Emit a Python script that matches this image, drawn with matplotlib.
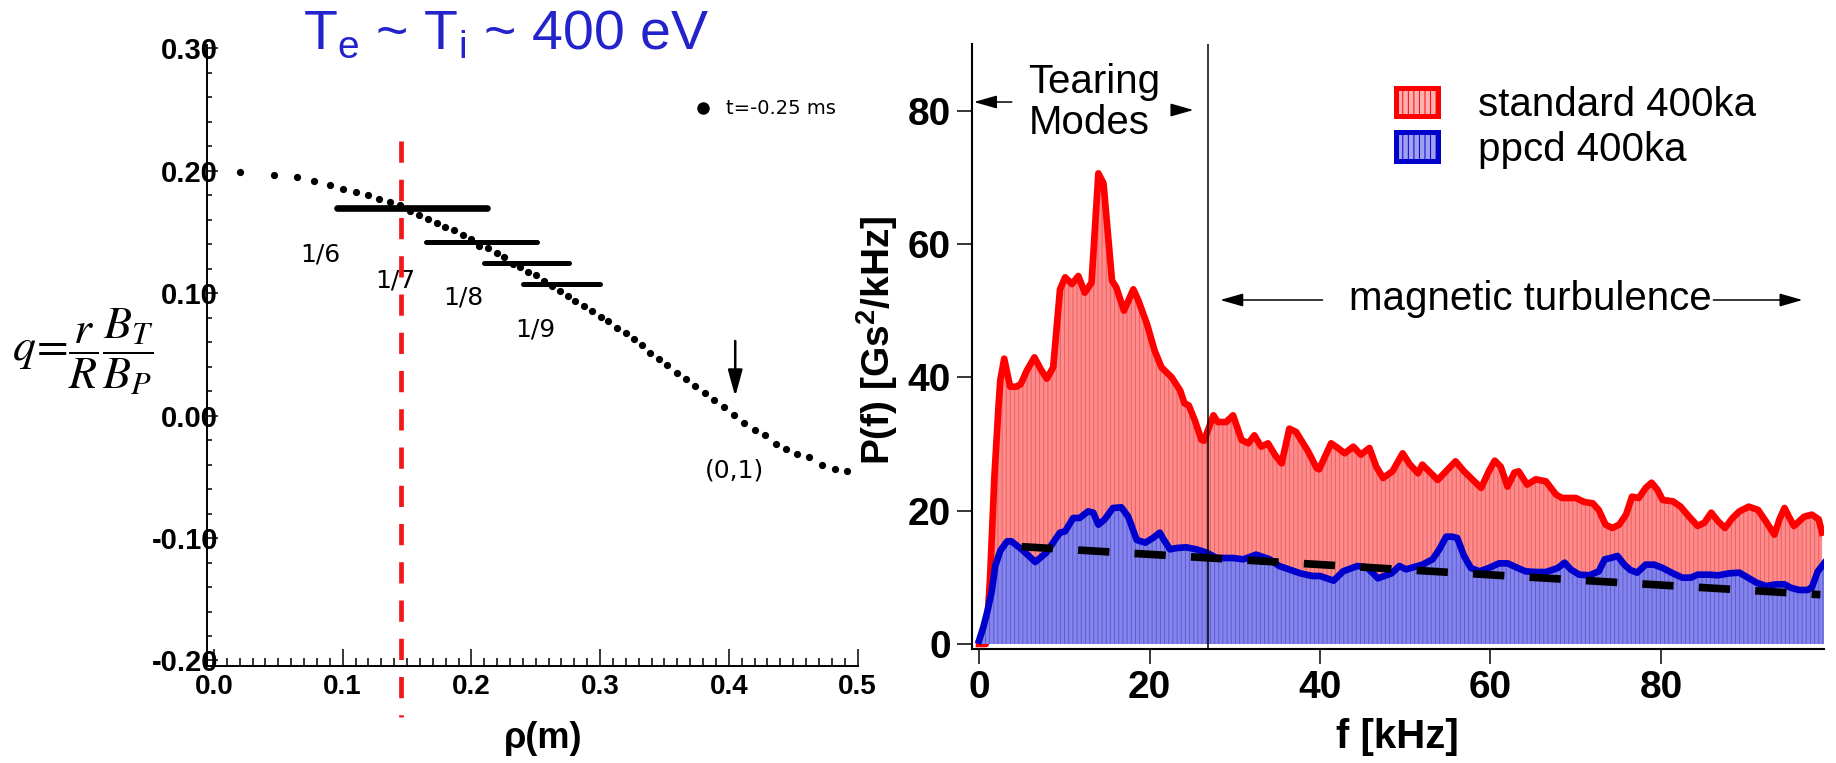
import numpy as np
import matplotlib
matplotlib.use("Agg")
import matplotlib.pyplot as plt
from matplotlib.patches import Patch
from matplotlib.ticker import MultipleLocator, FormatStrFormatter

plt.rcParams["axes.unicode_minus"] = False
plt.rcParams["hatch.linewidth"] = 0.7

# ---- left panel: safety factor profile ----
RHO = [0.0206, 0.047, 0.0645, 0.0777, 0.090, 0.100, 0.1106, 0.1196, 0.128, 0.1367,
       0.1447, 0.152, 0.159, 0.166, 0.173, 0.1796, 0.1868, 0.1938, 0.200, 0.206,
       0.2127, 0.2197, 0.2254, 0.232, 0.238, 0.244, 0.250, 0.2566, 0.263, 0.269,
       0.275, 0.2805, 0.2874, 0.2939, 0.3004, 0.3063, 0.3133, 0.320, 0.3262, 0.3322,
       0.3386, 0.3454, 0.352, 0.360, 0.3666, 0.3735, 0.3813, 0.3883, 0.396, 0.4038,
       0.4116, 0.420, 0.4278, 0.4364, 0.4447, 0.4529, 0.4622, 0.4724, 0.4827, 0.4916]
Q = [0.199, 0.197, 0.195, 0.192, 0.1885, 0.185, 0.1825, 0.180, 0.177, 0.1745,
     0.172, 0.1668, 0.164, 0.161, 0.157, 0.1545, 0.1517, 0.1476, 0.144, 0.139,
     0.1366, 0.1325, 0.1297, 0.124, 0.1215, 0.117, 0.1146, 0.110, 0.106, 0.102,
     0.098, 0.094, 0.0899, 0.0852, 0.0803, 0.0775, 0.0720, 0.0673, 0.0630, 0.0575,
     0.0515, 0.0465, 0.0418, 0.0349, 0.0300, 0.0239, 0.0185, 0.0124, 0.0069, 0.0006,
     -0.0058, -0.0118, -0.0159, -0.0228, -0.0269, -0.031, -0.0338, -0.040, -0.0433, -0.0453]

# resonant surfaces: label, rho start, rho end, q level
RES_LABELS = ["1/6", "1/7", "1/8", "1/9"]
RES_X0 = [0.0955, 0.165, 0.2099, 0.240]
RES_X1 = [0.2125, 0.251, 0.276, 0.300]
RES_Q = [0.1696, 0.142, 0.1248, 0.1077]
RES_LABEL_X = [0.0826, 0.1408, 0.1938, 0.250]
RES_LABEL_Y = [0.1316, 0.1105, 0.0968, 0.0707]

RHO_MARK = 0.1455

# ---- right panel: magnetic fluctuation spectra ----
F_STD = [0.0, 0.8, 1.3, 1.8, 2.3, 2.5, 2.95, 3.65, 4.4, 4.9, 5.6, 6.5, 7.2, 7.95, 8.7,
         9.5, 10.1, 10.9, 11.65, 12.4, 13.2, 14.0, 14.6, 15.6, 16.1, 17.0, 18.1, 18.7,
         19.7, 20.6, 21.4, 22.6, 23.6, 24.1, 24.6, 25.3, 26.1, 26.4, 27.5, 28.0, 29.0,
         29.8, 30.8, 31.6, 32.3, 33.1, 33.9, 34.7, 35.5, 36.4, 37.2, 38.6, 39.6, 39.9,
         41.3, 42.1, 42.9, 43.9, 44.8, 45.8, 46.6, 47.4, 48.5, 49.7, 50.5, 51.5, 52.0,
         52.8, 53.8, 55.0, 55.9, 56.9, 57.7, 58.9, 59.8, 60.5, 61.2, 62.0, 62.8, 63.3,
         64.3, 65.3, 66.5, 67.7, 68.4, 70.0, 71.0, 72.0, 72.7, 73.5, 74.3, 75.1, 75.9,
         76.6, 77.4, 78.2, 78.9, 79.6, 80.2, 81.4, 82.3, 83.3, 84.3, 85.1, 85.9, 86.7,
         87.5, 88.4, 89.2, 90.3, 91.4, 92.3, 93.3, 93.9, 94.5, 95.0, 95.6, 96.8, 97.7,
         98.5, 98.9]
P_STD = [0.0, 0.0, 10.0, 25.0, 36.0, 39.6, 42.8, 38.6, 38.6, 39.0, 41.0, 43.0, 41.3, 39.8, 41.5,
         53.2, 55.0, 54.0, 55.2, 52.7, 54.2, 70.6, 69.1, 54.5, 53.5, 50.0, 53.2, 51.5,
         48.0, 44.0, 41.5, 40.0, 38.0, 36.1, 35.8, 33.6, 30.6, 30.5, 34.3, 33.3, 33.3,
         34.3, 30.6, 30.1, 31.3, 29.6, 30.1, 28.4, 27.1, 32.3, 31.8, 28.9, 26.4, 26.2,
         30.1, 29.4, 28.6, 29.6, 28.4, 29.4, 26.6, 24.9, 25.9, 28.6, 27.0, 25.6, 26.9,
         25.9, 24.6, 26.2, 27.4, 25.9, 24.9, 23.4, 25.9, 27.5, 26.6, 23.6, 25.7, 25.9,
         23.9, 24.7, 24.4, 22.4, 21.9, 21.9, 21.3, 21.1, 20.1, 17.9, 17.4, 17.9, 19.4,
         22.1, 21.9, 23.4, 24.2, 23.1, 21.6, 21.4, 20.6, 19.1, 17.7, 18.2, 19.7, 18.4,
         17.4, 18.9, 19.9, 20.6, 20.1, 18.4, 16.4, 18.7, 20.4, 19.1, 17.7, 19.1, 19.4,
         18.7, 16.7]

F_PPCD = [0.0, 0.5, 1.0, 1.5, 1.9, 2.5, 3.3, 3.8, 5.0, 6.6, 7.9, 9.0, 9.5, 10.1, 11.05,
          11.8, 12.8, 13.4, 14.0, 14.75, 15.7, 16.7, 17.5, 18.5, 19.5, 20.4, 21.2, 21.6,
          22.4, 23.2, 24.3, 25.5, 26.7, 27.9, 29.8, 31.0, 32.5, 34.1, 35.2, 37.7, 39.1,
          40.0, 41.6, 42.7, 44.4, 45.5, 46.8, 48.4, 49.3, 50.1, 52.0, 53.2, 54.0, 54.8,
          55.5, 56.1, 56.9, 57.7, 58.7, 59.8, 61.0, 62.0, 63.2, 64.1, 65.3, 66.5, 67.9,
          68.7, 69.4, 70.4, 71.6, 72.7, 73.4, 74.1, 74.9, 75.7, 76.4, 77.2, 78.2, 79.2,
          80.2, 81.4, 82.5, 83.5, 84.3, 85.7, 86.7, 88.0, 89.2, 90.2, 91.2, 92.3, 93.5,
          94.5, 95.2, 96.2, 97.2, 97.7, 98.4, 99.2]
P_PPCD = [0.5, 2.5, 5.0, 8.0, 11.7, 14.0, 15.4, 15.4, 14.2, 12.3, 13.7, 15.8, 16.7, 16.9, 18.9,
          18.9, 19.9, 19.7, 17.9, 18.7, 20.4, 20.5, 19.1, 15.6, 15.2, 15.9, 16.7, 15.8,
          14.2, 14.4, 14.5, 14.2, 13.7, 12.9, 12.9, 12.7, 13.4, 12.7, 11.7, 10.6, 10.2,
          10.2, 9.5, 10.9, 11.7, 11.5, 9.85, 10.6, 11.7, 11.2, 11.9, 12.7, 14.2, 16.1,
          16.1, 15.9, 13.2, 11.4, 10.9, 11.4, 12.1, 12.1, 11.4, 10.9, 10.8, 10.8, 11.4,
          12.2, 11.2, 10.4, 10.3, 10.9, 12.7, 12.9, 13.2, 11.9, 11.1, 10.7, 11.9, 11.9,
          11.4, 10.6, 9.95, 9.95, 10.4, 10.4, 10.3, 10.6, 10.7, 9.95, 9.2, 8.7, 8.95,
          8.95, 8.45, 8.1, 8.1, 8.5, 10.9, 12.2]

F_FIT = [5.0, 98.7]
P_FIT = [14.6, 7.4]
F_SPLIT = 26.9

SANS = "Liberation Sans"

fig = plt.figure(figsize=(18.36, 7.63), dpi=100)

# ================= left panel =================
ax1 = fig.add_axes([0.11275, 0.12713, 0.3543, 0.8142])
ax1.set_xlim(-0.0054, 0.5)
ax1.set_ylim(-0.2045, 0.303)
for s in ("top", "right"):
    ax1.spines[s].set_visible(False)
for s in ("left", "bottom"):
    ax1.spines[s].set_linewidth(1.4)

ax1.xaxis.set_major_locator(MultipleLocator(0.1))
ax1.xaxis.set_minor_locator(MultipleLocator(0.01))
ax1.yaxis.set_major_locator(MultipleLocator(0.1))
ax1.yaxis.set_minor_locator(MultipleLocator(0.02))
ax1.xaxis.set_major_formatter(FormatStrFormatter("%.1f"))
ax1.yaxis.set_major_formatter(FormatStrFormatter("%.2f"))
ax1.tick_params(axis="x", which="major", direction="in", length=12, width=1.1, pad=6,
                labelsize=20)
ax1.tick_params(axis="x", which="minor", direction="in", length=6, width=1.1)
ax1.tick_params(axis="y", which="major", direction="in", length=8, width=1.1, pad=-8,
                labelsize=21)
ax1.tick_params(axis="y", which="minor", direction="in", length=3.5, width=1.1)
for lab in ax1.get_xticklabels() + ax1.get_yticklabels():
    lab.set_fontweight("bold")
    lab.set_family(SANS)

ax1.plot(RHO, Q, "o", color="black", ms=5.2, mec="none", zorder=3)
for x0, x1, yq, lab in zip(RES_X0, RES_X1, RES_Q, RES_LABELS):
    lw = 4.8 if lab == "1/6" else 3.6
    ax1.plot([x0, x1], [yq, yq], color="black", lw=lw, solid_capstyle="round", zorder=2)
for xl, yl, lab in zip(RES_LABEL_X, RES_LABEL_Y, RES_LABELS):
    ax1.text(xl, yl, lab, fontsize=18, ha="center", va="center")

ax1.plot([RHO_MARK, RHO_MARK], [0.2244, -0.246], color="#f01818", lw=3.4,
         dashes=(4.5, 3.6), clip_on=False, zorder=4)

ax1.annotate("", xy=(0.405, 0.0157), xytext=(0.405, 0.061),
             arrowprops=dict(arrowstyle="-|>,head_length=0.8,head_width=0.22",
                             mutation_scale=20, color="black", lw=1.8,
                             shrinkA=0, shrinkB=0))
ax1.text(0.4044, -0.0445, "(0,1)", fontsize=18, ha="center", va="center")

ax1.plot([0.380], [0.251], "o", color="black", ms=9, mec="none")
ax1.text(0.398, 0.251, "t=-0.25 ms", fontsize=14, ha="left", va="center")

ax1.set_xlabel("ρ(m)", family=SANS, fontsize=26, fontweight="bold", va="center")
ax1.xaxis.set_label_coords(0.5165, -0.1175)

fig.text(506 / 1836, 1 - 49.3 / 763, r"T$_\mathregular{e}$ ~ T$_\mathregular{i}$ ~ 400 eV",
         family=SANS, fontsize=40, color="#2323cc", ha="center", va="baseline")

fig.text(83 / 1836, 1 - 352 / 763, r"$q\!=\!\dfrac{r}{R}\dfrac{B_T}{B_P}$",
         math_fontfamily="stix", fontsize=33, ha="center", va="center")

# ================= right panel =================
ax2 = fig.add_axes([0.52925, 0.1490, 0.4641, 0.7933])
ax2.set_xlim(-0.86, 99.1)
ax2.set_ylim(-0.8, 90)
for s in ("top", "right"):
    ax2.spines[s].set_visible(False)
for s in ("left", "bottom"):
    ax2.spines[s].set_linewidth(1.5)
ax2.set_xticks([0, 20, 40, 60, 80])
ax2.set_yticks([0, 20, 40, 60, 80])
ax2.tick_params(direction="out", length=10.8, width=1.1, pad=4, labelsize=28)
for lab in ax2.get_xticklabels() + ax2.get_yticklabels():
    lab.set_fontweight("bold")
    lab.set_family(SANS)

RED_FACE, RED_HATCH = "#ff8c8c", "#ec6060"
BLUE_FACE, BLUE_HATCH = "#8484ea", "#5a5ad6"

ax2.fill_between(F_STD, 0, P_STD, facecolor=RED_FACE, edgecolor=RED_HATCH,
                 hatch="||||", linewidth=0, zorder=1)
ax2.plot(F_STD, P_STD, color="#ff0000", lw=4.8, solid_joinstyle="round", zorder=2)
ax2.fill_between(F_PPCD, 0, P_PPCD, facecolor=BLUE_FACE, edgecolor=BLUE_HATCH,
                 hatch="||||", linewidth=0, zorder=3)
ax2.plot(F_PPCD, P_PPCD, color="#0000cc", lw=4.8, solid_joinstyle="round", zorder=4)
ax2.plot(F_FIT, P_FIT, color="black", lw=5.5, dashes=(4.1, 3.3), zorder=5)
ax2.axvline(F_SPLIT, color="black", lw=1.1, zorder=6)

arrow_kw = dict(arrowstyle="-|>,head_length=0.7,head_width=0.2", mutation_scale=20,
                color="black", lw=1.1, shrinkA=0, shrinkB=0)
ax2.annotate("", xy=(-0.59, 81.3), xytext=(3.84, 81.3), arrowprops=arrow_kw,
             annotation_clip=False)
ax2.annotate("", xy=(25.15, 80.1), xytext=(22.6, 80.1), arrowprops=arrow_kw)
ax2.text(5.79, 82.6, "Tearing", family=SANS, fontsize=29, va="baseline")
ax2.text(5.79, 76.5, "Modes", family=SANS, fontsize=29, va="baseline")

ax2.annotate("", xy=(28.3, 51.6), xytext=(40.3, 51.6), arrowprops=arrow_kw)
ax2.annotate("", xy=(96.6, 51.6), xytext=(86.15, 51.6), arrowprops=arrow_kw)
ax2.text(43.35, 50.1, "magnetic turbulence", family=SANS, fontsize=29, va="baseline")

handles = [Patch(facecolor="#ffb0b0", edgecolor="#ff0000", lw=3.6, hatch="|||"),
           Patch(facecolor="#a0a0f0", edgecolor="#0000cc", lw=3.6, hatch="|||")]
leg = ax2.legend(handles, ["standard 400ka", "ppcd 400ka"], loc="upper left",
                 bbox_to_anchor=(0.4985, 0.931), frameon=False, borderpad=0,
                 borderaxespad=0, handlelength=1.02, handleheight=0.7,
                 handletextpad=1.0, labelspacing=0.17,
                 prop=dict(family=SANS, size=29))

ax2.set_xlabel("f [kHz]", family=SANS, fontsize=29, fontweight="bold", labelpad=9)
fig.text(877 / 1836, 1 - 340 / 763, r"P(f) [Gs$^\mathregular{2}$/kHz]", family=SANS,
         fontsize=28, fontweight="bold", rotation=90, ha="center", va="center")

fig.savefig("out.png", dpi=100)
